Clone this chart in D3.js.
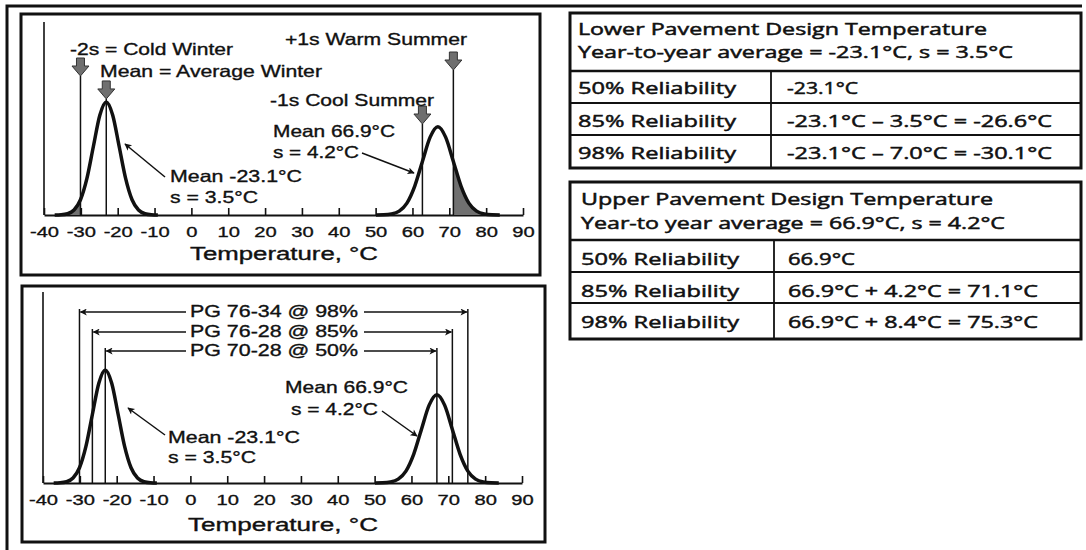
<!DOCTYPE html>
<html><head><meta charset="utf-8">
<script src="https://cdn.jsdelivr.net/npm/d3@7"></script>
<style>html,body{margin:0;padding:0;background:#fff;} svg{display:block}</style>
</head><body><svg id="c" width="1086" height="550"></svg>
<script>
// ---------- data ----------
const tempTicks = [-40,-30,-20,-10,0,10,20,30,40,50,60,70,80,90];
const winterMean = -23.1, winterSd = 3.5;
const summerMean = 66.9, summerSd = 4.2;
// curves (temperature, relative frequency)
const winterCurveT = [-37.1,-35.35,-33.6,-31.85,-30.1,-28.35,-26.6,-24.85,-23.1,-21.35,-19.6,-17.85,-16.1,-14.35,-12.6,-10.85,-9.1];
const winterCurveF = [0.00003,0.00025,0.00127,0.0050,0.0154,0.0370,0.0691,0.1006,0.1140,0.1006,0.0691,0.0370,0.0154,0.0050,0.00127,0.00025,0.00003];
const summerCurveT = [50.1,52.2,54.3,56.4,58.5,60.6,62.7,64.8,66.9,69.0,71.1,73.2,75.3,77.4,79.5,81.6,83.7];
const summerCurveF = [0.00003,0.0002,0.0010,0.0039,0.0120,0.0289,0.0540,0.0785,0.0890,0.0785,0.0540,0.0289,0.0120,0.0039,0.0010,0.0002,0.00003];
const seasonLabels = ["-2s = Cold Winter","Mean = Average Winter","-1s Cool Summer","+1s Warm Summer"];
const seasonTemps = [-30.1, -23.1, 62.7, 71.1];
const gradeLabels = ["PG 76-34 @ 98%","PG 76-28 @ 85%","PG 70-28 @ 50%"];
const gradeLow = [-30.1,-26.6,-23.1];
const gradeHigh = [75.3,71.1,66.9];
const reliabilityLabels = ["50% Reliability","85% Reliability","98% Reliability"];
const lowerTitle = ["Lower Pavement Design Temperature","Year-to-year average = -23.1°C, s = 3.5°C"];
const lowerValues = ["-23.1°C","-23.1°C – 3.5°C = -26.6°C","-23.1°C – 7.0°C = -30.1°C"];
const upperTitle = ["Upper Pavement Design Temperature","Year-to year average = 66.9°C, s = 4.2°C"];
const upperValues = ["66.9°C","66.9°C + 4.2°C = 71.1°C","66.9°C + 8.4°C = 75.3°C"];

// ---------- drawing ----------
const svg = d3.select("#c");
const INK = "#111";
const PF = "'Liberation Sans', Arial, sans-serif";
const TF = "'Open Sans', 'Noto Sans', sans-serif";

function txt(g, x, y, s, w, opt = {}) {
  const t = g.append("text").attr("x", x).attr("y", y).text(s)
    .attr("font-family", opt.family || PF).attr("font-size", opt.size || 16.5)
    .attr("fill", INK).attr("stroke", INK).attr("stroke-width", opt.sw || 0.35)
    .attr("text-anchor", opt.anchor || "start");
  if (w) t.attr("textLength", w).attr("lengthAdjust", "spacingAndGlyphs");
  return t;
}

const defs = svg.append("defs");
defs.append("marker").attr("id", "ah").attr("viewBox", "0 0 10 10")
  .attr("refX", 9).attr("refY", 5).attr("markerWidth", 10).attr("markerHeight", 7)
  .attr("markerUnits", "userSpaceOnUse").attr("orient", "auto")
  .append("path").attr("d", "M0,0 L10,5 L0,10 L2.5,5 Z").attr("fill", INK);

function connector(g, x1, y1, x2, y2) {
  g.append("line").attr("x1", x1).attr("y1", y1).attr("x2", x2).attr("y2", y2)
    .attr("stroke", INK).attr("stroke-width", 1.5).attr("marker-end", "url(#ah)");
}

function blockArrow(g, cx, tipY) {
  const p = d3.path();
  p.moveTo(cx - 4, tipY - 18); p.lineTo(cx + 4, tipY - 18); p.lineTo(cx + 4, tipY - 10);
  p.lineTo(cx + 8.5, tipY - 10); p.lineTo(cx, tipY); p.lineTo(cx - 8.5, tipY - 10);
  p.lineTo(cx - 4, tipY - 10); p.closePath();
  g.append("path").attr("d", p.toString()).attr("fill", "#6f6f6f").attr("stroke", "#333").attr("stroke-width", 1);
}

const winter = winterCurveT.map((t, i) => ({t, f: winterCurveF[i]}));
const summer = summerCurveT.map((t, i) => ({t, f: summerCurveF[i]}));

function panel(id, x0, x1, base, axisTop) {
  const g = svg.append("g");
  const x = d3.scaleLinear().domain([-40, 90]).range([x0, x1]);
  const y = d3.scaleLinear().domain([0, 0.12]).range([base, base - 119]);
  g.append("line").attr("x1", x(-40)).attr("x2", x(-40)).attr("y1", axisTop).attr("y2", base)
    .attr("stroke", INK).attr("stroke-width", 1.6);
  const ax = g.append("g").attr("transform", `translate(0,${base})`)
    .call(d3.axisBottom(x).tickValues(tempTicks).tickFormat(d => String(d))
      .tickSizeInner(-7).tickSizeOuter(0).tickPadding(11));
  ax.select(".domain").attr("stroke", INK).attr("stroke-width", 2);
  ax.selectAll(".tick line").attr("stroke", INK).attr("stroke-width", 1.6);
  ax.selectAll(".tick text").attr("font-family", PF).attr("font-size", 15.5)
    .attr("fill", INK).attr("stroke", INK).attr("stroke-width", 0.35).attr("transform", "scale(1.3,1)");
  const line = d3.line().x(d => x(d.t)).y(d => y(d.f)).curve(d3.curveMonotoneX);
  const area = d3.area().x(d => x(d.t)).y0(y(0)).y1(d => y(d.f)).curve(d3.curveMonotoneX);
  return {g, x, y, line, area};
}

// outer frame
svg.append("path").attr("d", "M7,550 V6 H1082").attr("fill", "none").attr("stroke", INK).attr("stroke-width", 3);
// panel frames
svg.append("rect").attr("x", 21).attr("y", 14).attr("width", 519).attr("height", 261)
  .attr("fill", "none").attr("stroke", INK).attr("stroke-width", 3);
svg.append("rect").attr("x", 22).attr("y", 286).attr("width", 523).attr("height", 256)
  .attr("fill", "none").attr("stroke", INK).attr("stroke-width", 3);

// ---------- top panel ----------
{
  const P = panel("top", 44, 523, 215, 22);
  const {g, x, y} = P;
  defs.append("clipPath").attr("id", "clipW").append("rect")
    .attr("x", x(-40)).attr("y", 0).attr("width", x(seasonTemps[0]) - x(-40)).attr("height", 300);
  defs.append("clipPath").attr("id", "clipS").append("rect")
    .attr("x", x(seasonTemps[3])).attr("y", 0).attr("width", x(90) - x(seasonTemps[3])).attr("height", 300);
  g.append("path").datum(winter).attr("d", P.area).attr("fill", "#707070").attr("clip-path", "url(#clipW)");
  g.append("path").datum(summer).attr("d", P.area).attr("fill", "#707070").attr("clip-path", "url(#clipS)");
  const tips = [76, y(d3.max(winterCurveF)) - 3, 124, 70];
  seasonTemps.forEach((t, i) => {
    g.append("line").attr("x1", x(t)).attr("x2", x(t)).attr("y1", tips[i]).attr("y2", y(0))
      .attr("stroke", INK).attr("stroke-width", 1.5);
  });
  g.append("path").datum(winter).attr("d", P.line).attr("fill", "none").attr("stroke", INK).attr("stroke-width", 3.5);
  g.append("path").datum(summer).attr("d", P.line).attr("fill", "none").attr("stroke", INK).attr("stroke-width", 3.5);
  seasonTemps.forEach((t, i) => blockArrow(g, x(t), tips[i]));
  txt(g, 70, 55, seasonLabels[0], 163);
  txt(g, 100, 77, seasonLabels[1], 222);
  txt(g, 270, 106, seasonLabels[2], 164);
  txt(g, 285, 45, seasonLabels[3], 182);
  txt(g, 273, 137, "Mean 66.9°C", 122);
  txt(g, 273, 158, "s = 4.2°C", 86);
  txt(g, 170, 182, "Mean -23.1°C", 132);
  txt(g, 170, 203, "s = 3.5°C", 88);
  txt(g, 190, 260, "Temperature, °C", 188, {size: 17.5});
  connector(g, 165, 177, 125, 144);
  connector(g, 362, 153, 414, 173);
}

// ---------- bottom panel ----------
{
  const P = panel("bot", 43, 522, 483, 292);
  const {g, x, y} = P;
  const tops = [309, 329, 348];
  gradeLabels.forEach((lab, i) => {
    g.append("line").attr("x1", x(gradeLow[i])).attr("x2", x(gradeLow[i])).attr("y1", tops[i]).attr("y2", y(0))
      .attr("stroke", INK).attr("stroke-width", 1.5);
    g.append("line").attr("x1", x(gradeHigh[i])).attr("x2", x(gradeHigh[i])).attr("y1", tops[i]).attr("y2", y(0))
      .attr("stroke", INK).attr("stroke-width", 1.5);
    const ay = tops[i] + 3;
    connector(g, 186, ay, x(gradeLow[i]) + 1, ay);
    connector(g, 364, ay, x(gradeHigh[i]) - 1, ay);
    txt(g, 274, tops[i] + 8, lab, 168, {anchor: "middle"});
  });
  g.append("path").datum(winter).attr("d", P.line).attr("fill", "none").attr("stroke", INK).attr("stroke-width", 3.5);
  g.append("path").datum(summer).attr("d", P.line).attr("fill", "none").attr("stroke", INK).attr("stroke-width", 3.5);
  txt(g, 285, 393, "Mean 66.9°C", 123);
  txt(g, 291, 415, "s = 4.2°C", 87);
  txt(g, 168, 443, "Mean -23.1°C", 132);
  txt(g, 168, 463, "s = 3.5°C", 88);
  txt(g, 188, 531, "Temperature, °C", 190, {size: 17.5});
  connector(g, 165, 435, 128, 408);
  connector(g, 382, 411, 417, 436);
}

// ---------- tables ----------
function table(top, bottom, sep, rows, divX, titles, titleY, titleW, rowY, labX, valX, valW, values) {
  const g = svg.append("g");
  g.append("rect").attr("x", 570).attr("y", top).attr("width", 511).attr("height", bottom - top)
    .attr("fill", "none").attr("stroke", INK).attr("stroke-width", 3);
  g.append("line").attr("x1", 570).attr("x2", 1081).attr("y1", sep).attr("y2", sep).attr("stroke", INK).attr("stroke-width", 2.5);
  rows.forEach(r => g.append("line").attr("x1", 570).attr("x2", 1081).attr("y1", r).attr("y2", r)
    .attr("stroke", INK).attr("stroke-width", 1.8));
  g.append("line").attr("x1", divX).attr("x2", divX).attr("y1", sep).attr("y2", bottom).attr("stroke", INK).attr("stroke-width", 1.8);
  titles.forEach((s, i) => txt(g, labX, titleY[i], s, titleW[i], {family: TF, sw: 0.5}));
  reliabilityLabels.forEach((s, i) => {
    txt(g, labX, rowY[i], s, 158, {family: TF, sw: 0.5});
    txt(g, valX, rowY[i], values[i], valW[i], {family: TF, sw: 0.5});
  });
}
table(13, 168, 71, [103, 135], 771, lowerTitle, [35, 58], [409, 435], [94, 127, 159], 578, 787, [71, 265, 265], lowerValues);
table(182, 339, 240, [272, 303], 774, upperTitle, [205, 229], [412, 424], [265, 297, 328], 581, 788, [67, 250, 250], upperValues);
</script></body></html>
